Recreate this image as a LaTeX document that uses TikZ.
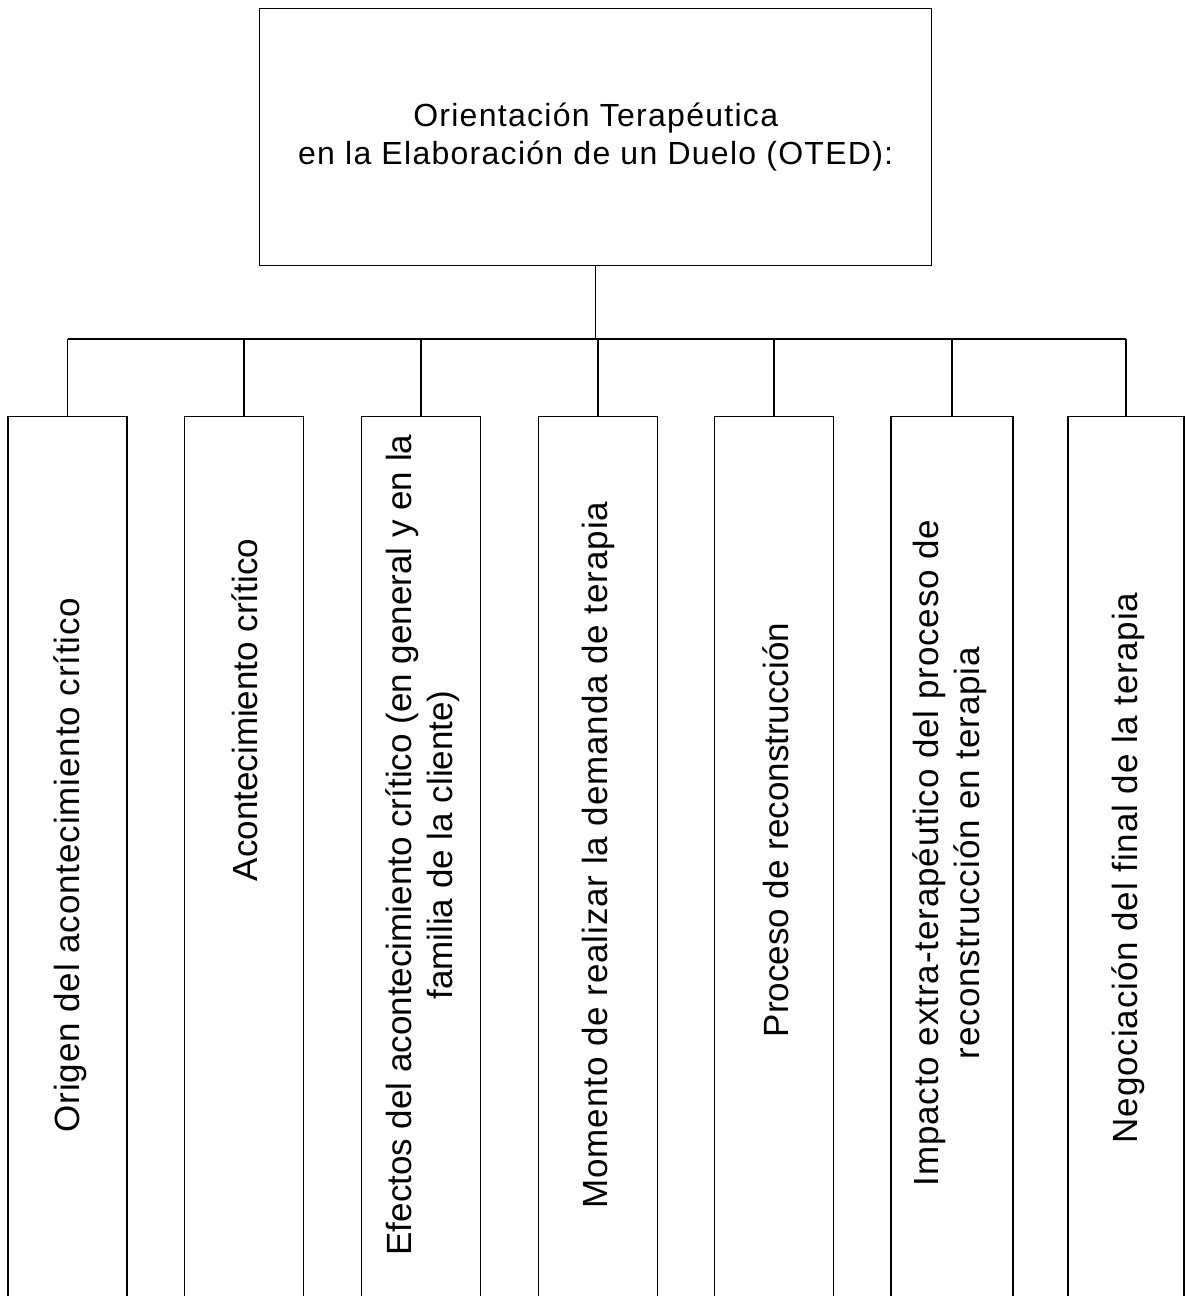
\documentclass[tikz,border=0pt]{standalone}
\usepackage{fontspec}
\setmainfont{Liberation Sans}
\begin{document}
\begin{tikzpicture}[x=1pt,y=-1pt,
  line width=1.4pt,
  box/.style={draw, rectangle, inner sep=0pt, minimum width=119pt, minimum height=894pt, anchor=north},
  vlab/.style={rotate=90, inner sep=0pt, align=center, font=\fontsize{35}{41}\selectfont},
  wide/.style={font=\fontsize{35}{41}\selectfont\addfontfeatures{LetterSpace=2.5}},
  title/.style={draw, rectangle, inner sep=0pt, minimum width=672pt, minimum height=257pt, anchor=north west, align=center, font=\fontsize{32}{38}\selectfont\addfontfeatures{LetterSpace=4}}]
\useasboundingbox (0,0) rectangle (1185,1296);
\clip (0,0) rectangle (1185,1296);
\node[title] (top) at (259,8) {Orientación Terapéutica\\en la Elaboración de un Duelo (OTED):};
\node[box] (b1) at (67.5,416) {};
\node[box] (b2) at (244,416) {};
\node[box] (b3) at (421,416) {};
\node[box] (b4) at (598,416) {};
\node[box] (b5) at (774,416) {};
\node[box, minimum width=122pt] (b6) at (952,416) {};
\node[box, minimum width=116pt] (b7) at (1126,416) {};
\coordinate (bus) at (0,339);
\draw (top.south) -- (top.south |- bus);
\draw (b1.north |- bus) -- (b7.north |- bus);
\foreach \i in {1,...,7} \draw (b\i.north |- bus) -- (b\i.north);
\node[vlab, wide] (t1) at (70,865) {Origen del acontecimiento crítico};
\node[vlab] (t2) at (245,710) {Acontecimiento crítico};
\node[vlab] (t3) at (423,845) {Efectos del acontecimiento crítico (en general y en la\\familia de la cliente)};
\node[vlab, wide] (t4) at (598,855) {Momento de realizar la demanda de terapia};
\node[vlab] (t5) at (776,830) {Proceso de reconstrucción};
\node[vlab, wide] (t6) at (950,853) {Impacto extra-terapéutico del proceso de\\reconstrucción en terapia};
\node[vlab, wide] (t7) at (1128,868) {Negociación del final de la terapia};
\end{tikzpicture}
\end{document}
